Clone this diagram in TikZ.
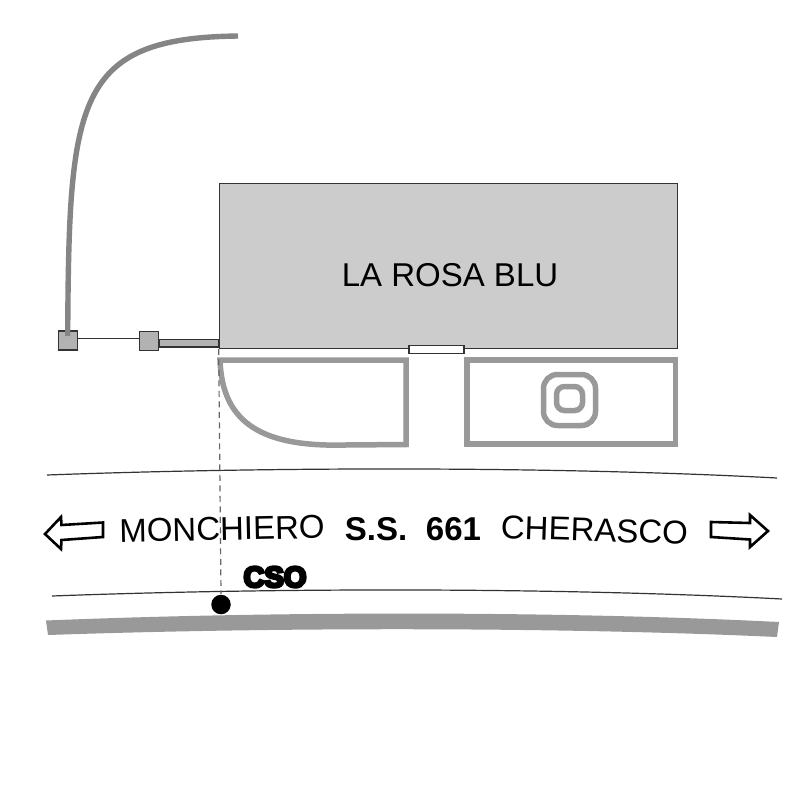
\documentclass[tikz,border=0pt]{standalone}
\usepackage{fontspec}
\setmainfont{Liberation Sans}
\newfontfamily\csofont[FakeBold=10]{Liberation Sans Bold}
\definecolor{wallgray}{HTML}{999999}
\definecolor{drivegray}{HTML}{858585}
\definecolor{buildgray}{HTML}{CCCCCC}
\definecolor{postgray}{HTML}{B2B2B2}
\definecolor{linegray}{HTML}{333333}
\definecolor{dashgray}{HTML}{666666}
\tikzset{
  wall/.style={draw=wallgray,line width=5.5pt},
  thinline/.style={draw=linegray,line width=1.2pt},
  post/.style={draw=linegray,fill=postgray,line width=1.2pt,minimum size=19pt,inner sep=0pt},
  outlinearrow/.style={draw=black,fill=white,line width=2.6pt,miter limit=6},
  lab/.style={inner sep=0pt,font=\fontsize{33}{33}\selectfont,text=black},
  blab/.style={inner sep=0pt,font=\fontsize{33}{33}\selectfont\bfseries,text=black}
}
\begin{document}
\begin{tikzpicture}[x=1pt,y=-1pt]
\useasboundingbox (0,0) rectangle (809,809);
\fill[white] (0,0) rectangle (809,809);
% building
\node[draw=linegray,fill=buildgray,line width=1.2pt,minimum width=458pt,minimum height=165pt,inner sep=0pt,anchor=north west] (building) at (218.7,182.7) {};
\node[lab] (title) at (450,275) {LA ROSA BLU};
\node[draw=linegray,fill=white,line width=1.2pt,minimum width=55pt,minimum height=8pt,inner sep=0pt] (door) at (436.5,349.7) {};
% gate
\node[post] (p1) at (67.7,340.5) {};
\node[post] (p2) at (149,340.7) {};
\draw[thinline] (p1.east |- 0,338.5) -- (p2.west |- 0,338.5);
\draw[draw=linegray,fill=postgray,line width=1.2pt] (p2.east |- 0,339.5) rectangle (building.south west |- 0,347);
% curved drive
\draw[draw=drivegray,line width=5.4pt] (67.7,336) .. controls (69,100) and (75,38) .. (238,36);
% gardens
\draw[wall,line join=miter] (220,360) -- (406.2,360) -- (406.2,444.5) -- (345,445) .. controls (265,447) and (222,425) .. (220,360) -- cycle;
\draw[wall] (467,360.2) rectangle (675.7,444);
\draw[wall,rounded corners=14pt] (543.5,374.5) rectangle (595.5,425.5);
\draw[wall,rounded corners=8pt] (556.5,386.5) rectangle (582.5,410.5);
% road
\draw[thinline] (47,475) .. controls (280,466.5) and (560,466.5) .. (777,478);
\draw[thinline] (52,596) .. controls (280,587.5) and (560,587.5) .. (782,599);
\fill[wallgray] (46,620.5) .. controls (280,611) and (560,611) .. (779,622) -- (777,637) .. controls (560,627) and (280,627) .. (48,635) -- cycle;
% arrows
\draw[outlinearrow] (45,534) -- (61,517) -- (61.5,525) -- (103,522.5) -- (103,537) -- (61.5,540) -- (61,549) -- cycle;
\draw[outlinearrow] (768,531) -- (750,515) -- (750,523) -- (711,522) -- (711,537) -- (750,539.5) -- (750,547) -- cycle;
% road labels
\node[lab,rotate=1.2] (mon) at (222,529) {MONCHIERO};
\node[blab] (ss) at (376,529) {S.S.};
\node[blab] (num) at (453.5,529) {661};
\node[lab,rotate=-1.8] (che) at (594.5,530) {CHERASCO};
% marker
\node[circle,fill=black,minimum size=19.5pt,inner sep=0pt] (cso) at (221,604.5) {};
\draw[draw=dashgray,line width=1.2pt,dash pattern=on 6pt off 4.5pt] (building.south west) -- (cso.center |- 0,594) ;
\node[inner sep=0pt,font=\csofont\fontsize{29}{29}\selectfont] (csolab) at (275,577) {CSO};
\end{tikzpicture}
\end{document}
